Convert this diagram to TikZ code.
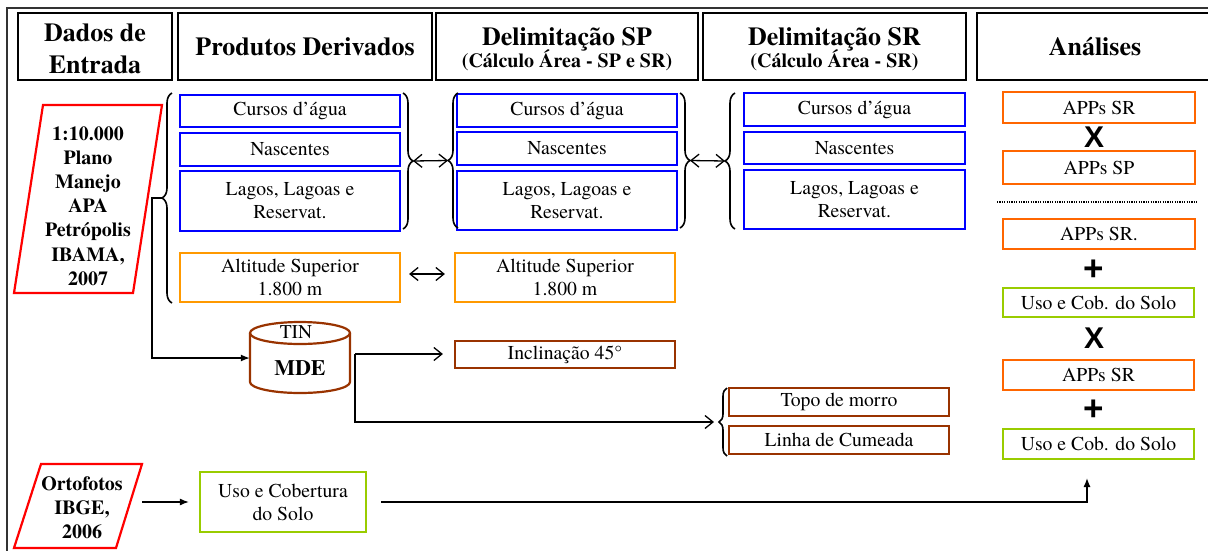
\documentclass[tikz,border=0pt]{standalone}
\usepackage{fontspec}
\setmainfont{texgyretermes}[Extension=.otf, UprightFont=*-regular, BoldFont=*-bold, ItalicFont=*-italic, BoldItalicFont=*-bolditalic]
\newfontfamily\sansb{Liberation Sans}
\usetikzlibrary{arrows.meta,decorations.pathreplacing}
\definecolor{cblue}{HTML}{0000FF}
\definecolor{corgA}{HTML}{FF9900}
\definecolor{corgB}{HTML}{FF6600}
\definecolor{cgreen}{HTML}{99CC00}
\definecolor{cbrown}{HTML}{993300}
\definecolor{cred}{HTML}{FF0000}
\begin{document}
\begin{tikzpicture}[x=1pt,y=-1pt,
  hdr/.style={draw=black, line width=2.6pt, inner sep=0pt, align=center, font=\fontsize{26}{31}\selectfont\bfseries},
  hdrtxt/.style={inner sep=0pt, anchor=base, font=\fontsize{26}{31}\selectfont\bfseries},
  subtxt/.style={inner sep=0pt, anchor=base, font=\fontsize{20}{24}\selectfont\bfseries},
  bx/.style={draw, line width=2.2pt, inner sep=0pt, align=center, font=\fontsize{19.7}{23}\selectfont},
  bl/.style={bx, draw=cblue},
  oa/.style={bx, draw=corgA},
  ob/.style={bx, draw=corgB},
  gr/.style={bx, draw=cgreen},
  br/.style={bx, draw=cbrown},
  brc/.style={decorate, decoration={brace, amplitude=10pt}, line width=1.6pt},
  con/.style={line width=1.3pt},
  opa/.style={con, >={Straight Barb[length=8pt,width=13pt]}},
  fla/.style={con, -{Latex[length=9pt,width=7pt]}},
  inpt/.style={align=center, inner sep=0pt, font=\fontsize{20}{24.2}\selectfont\bfseries},
  opr/.style={inner sep=0pt, font=\sansb\bfseries\fontsize{30}{30}\selectfont},
  opp/.style={inner sep=0pt, font=\sansb\bfseries\fontsize{35}{35}\selectfont},
]
\useasboundingbox (0,0) rectangle (1208,550);
% outer frame
\draw[line width=1.5pt, black!80] (7,8) rectangle (1240,580);

% headers
\node[hdr, minimum width=154pt, minimum height=67pt] (h1) at (95,46.5) {};
\node[hdrtxt] (h1t) at (95,41) {Dados de};
\node[hdrtxt] (h1u) at (95,73.5) {Entrada};
\node[hdr, minimum width=254pt, minimum height=67pt] (h2) at (305,46.5) {Produtos Derivados};
\node[hdr, minimum width=262pt, minimum height=67pt] (h3) at (567,46.5) {};
\node[hdrtxt] (h3t) at (567,45.5) {Delimitação SP};
\node[subtxt] (h3u) at (567,67.5) {(Cálculo Área - SP e SR)};
\node[hdr, minimum width=263pt, minimum height=67pt] (h4) at (834.5,46.5) {};
\node[hdrtxt] (h4t) at (834.5,45.5) {Delimitação SR};
\node[subtxt] (h4u) at (834.5,67.5) {(Cálculo Área - SR)};
\node[hdr, minimum width=236pt, minimum height=67pt] (h5) at (1095,46.5) {Análises};

% input 1
\draw[cred, line width=2.2pt] (43,105) -- (162,105) -- (133,293) -- (14,293) -- cycle;
\node[inpt] (in1) at (88,206) {1:10.000\\Plano\\Manejo\\APA\\Petrópolis\\IBAMA,\\2007};

% column 2
\node[bl, minimum width=220pt, minimum height=32pt] (c2a) at (290,111) {Cursos d’água};
\node[bl, minimum width=220pt, minimum height=33pt] (c2b) at (290,149.5) {Nascentes};
\node[bl, minimum width=220pt, minimum height=60pt] (c2c) at (290,201) {Lagos, Lagoas e\\Reservat.};
\node[oa, minimum width=220pt, minimum height=49pt] (c2d) at (290,277.5) {Altitude Superior\\1.800 m};

% column 3
\node[bl, minimum width=220pt, minimum height=33pt] (c3a) at (567,110.5) {Cursos d’água};
\node[bl, minimum width=220pt, minimum height=33pt] (c3b) at (567,148.5) {Nascentes};
\node[bl, minimum width=220pt, minimum height=59pt] (c3c) at (567,200.5) {Lagos, Lagoas e\\Reservat.};
\node[oa, minimum width=220pt, minimum height=49pt] (c3d) at (565,277.5) {Altitude Superior\\1.800 m};

% column 4
\node[bl, minimum width=221pt, minimum height=33pt] (c4a) at (854.5,109.5) {Cursos d’água};
\node[bl, minimum width=221pt, minimum height=32pt] (c4b) at (854.5,148) {Nascentes};
\node[bl, minimum width=221pt, minimum height=59pt] (c4c) at (854.5,199.5) {Lagos, Lagoas e\\Reservat.};

% slope and hilltops
\node[br, minimum width=220pt, minimum height=27pt] (incl) at (565,354.5) {Inclinação 45°};
\node[br, minimum width=220pt, minimum height=28pt] (topo) at (839,402) {Topo de morro};
\node[br, minimum width=220pt, minimum height=28pt] (linha) at (839,440) {Linha de Cumeada};

% land use
\node[gr, minimum width=166pt, minimum height=60pt] (uso) at (283,502) {Uso e Cobertura\\do Solo};

% analyses
\node[ob, minimum width=192pt, minimum height=31pt] (a1) at (1099,107.5) {APPs SR};
\node[opr] (x1) at (1094,137) {X};
\node[ob, minimum width=192pt, minimum height=33pt] (a2) at (1099,167.5) {APPs SP};
\coordinate (d1) at (997,202); \coordinate (d2) at (1197,202);
\draw[line width=1.2pt, dash pattern=on 1.2pt off 1.2pt] (d1) -- (d2);
\node[ob, minimum width=192pt, minimum height=30pt] (a3) at (1099,234) {APPs SR.};
\node[opp] (p1) at (1094,270) {+};
\node[gr, minimum width=191pt, minimum height=29pt] (a4) at (1098.5,302.5) {Uso e Cob. do Solo};
\node[opr] (x2) at (1094,338) {X};
\node[ob, minimum width=191pt, minimum height=30pt] (a5) at (1098.5,375) {APPs SR};
\node[opp] (p2) at (1094,410) {+};
\node[gr, minimum width=191pt, minimum height=30pt] (a6) at (1098.5,444) {Uso e Cob. do Solo};

% MDE cylinder
\node[minimum width=100pt, minimum height=72pt, inner sep=0pt] (mde) at (300,358) {};
\draw[cbrown, line width=2.2pt] (250,333) -- (250,382) arc[start angle=180, end angle=0, x radius=50, y radius=11] -- (350,333);
\draw[cbrown, line width=2.2pt] (300,333) ellipse [x radius=50, y radius=11];
\node[inner sep=0pt, font=\fontsize{19.5}{23}\selectfont] (tin) at (296,332) {TIN};
\node[inner sep=0pt, font=\fontsize{22}{26}\selectfont\bfseries] (mdet) at (300,368) {MDE};

% input 2
\draw[cred, line width=2.2pt] (41,464) -- (142,464) -- (116,548) -- (14,548) -- cycle;
\node[inpt] (in2) at (82,508) {Ortofotos\\IBGE,\\2006};

% braces
\coordinate (b2lt) at (172,93);  \coordinate (b2lb) at (172,303); \coordinate (t2l) at (162,198);
\coordinate (b2rt) at (403,93);  \coordinate (b2rb) at (403,229); \coordinate (t2r) at (413,161);
\coordinate (b3lt) at (458,93);  \coordinate (b3lb) at (458,228); \coordinate (t3l) at (448,160.5);
\coordinate (b3rt) at (680,93);  \coordinate (b3rb) at (680,228); \coordinate (t3r) at (690,160.5);
\coordinate (b4lt) at (735,93);  \coordinate (b4lb) at (735,229); \coordinate (t4l) at (725,161);
\coordinate (b5lt) at (727,388); \coordinate (b5lb) at (727,456); \coordinate (t5l) at (717,422);
\draw[brc] (b2lb) -- (b2lt);
\draw[brc] (b2rt) -- (b2rb);
\draw[brc] (b3lb) -- (b3lt);
\draw[brc] (b3rt) -- (b3rb);
\draw[brc] (b4lb) -- (b4lt);
\draw[brc, decoration={brace, amplitude=8pt}] (b5lb) -- (b5lt);

% connectors
\draw[opa, <->] (t2r) -- (t3l);
\draw[opa, <->] (t3r) -- (t4l);
\draw[opa, <->, shorten <=8pt, shorten >=9pt] (c2d.east |- 0,274) -- (c3d.west |- 0,274);
\coordinate (k1) at (152,198);
\draw[fla] (t2l) -- (k1) |- (mde.west);
\coordinate (m1) at (355,354);
\draw[opa, ->, shorten >=11pt] (m1) -- (m1 -| incl.west);
\draw[opa, ->, shorten >=3pt] (m1) |- (t5l);
\coordinate (o1) at (142,502);
\draw[fla, shorten >=10pt] (o1) -- (uso.west);
\coordinate (u1) at (381,502);
\coordinate (u2) at (1087,478);
\draw[fla] (u1) -| (u2);
\end{tikzpicture}
\end{document}
